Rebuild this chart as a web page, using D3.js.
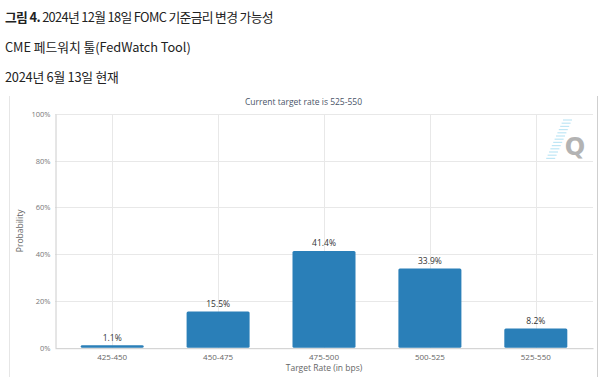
<!DOCTYPE html>
<html><head><meta charset="utf-8">
<script src="https://cdn.jsdelivr.net/npm/d3@7"></script>
<style>body{margin:0;background:#fff;} svg{display:block;}</style>
</head><body>
<script>
const categories = ["425-450","450-475","475-500","500-525","525-550"];
const probabilities = [1.1, 15.5, 41.4, 33.9, 8.2];
const yTicks = [0, 20, 40, 60, 80, 100];
const headerLines = ["2024년 12월 18일 FOMC 기준금리 변경 가능성","CME 페드워치 툴(FedWatch Tool)","2024년 6월 13일 현재"];
const chartTitle = "Current target rate is 525-550";
const xTitle = "Target Rate (in bps)";
const yTitle = "Probability";

(function () {
const W = 600, H = 380;
const svg = d3.select("body").append("svg").attr("width", W).attr("height", H);
const kfont = "'Noto Sans CJK KR','Noto Sans',sans-serif";
const cfont = "'Open Sans','DejaVu Sans',sans-serif";

// header
const h1 = svg.append("text").attr("x", 5).attr("y", 22).attr("font-family", kfont).attr("font-size", 12.8)
  .attr("letter-spacing", -0.65).attr("fill", "#222");
h1.append("tspan").attr("font-weight", "bold").text("그림 4. ");
h1.append("tspan").text(headerLines[0]);
svg.append("text").attr("x", 5).attr("y", 52).attr("font-family", kfont).attr("font-size", 12.8)
  .attr("letter-spacing", -0.05).attr("fill", "#222").text(headerLines[1]);
svg.append("text").attr("x", 5).attr("y", 82).attr("font-family", kfont).attr("font-size", 12.8)
  .attr("letter-spacing", -0.25).attr("fill", "#222").text(headerLines[2]);

// frame lines
svg.append("line").attr("x1", 9.5).attr("x2", 9.5).attr("y1", 96).attr("y2", 377).attr("stroke", "#e6e6e6");
svg.append("line").attr("x1", 597.5).attr("x2", 597.5).attr("y1", 96).attr("y2", 377).attr("stroke", "#cfcfcf");

const pl = 55, pr = 593, pt = 114, pb = 347.7;
const x = d3.scaleBand().domain(categories).range([pl, pr]).paddingInner(0).paddingOuter(0.04);
const y = d3.scaleLinear().domain([0, 100]).range([pb, pt]);

// horizontal grid
svg.append("g").selectAll("line").data(yTicks.slice(1)).join("line")
  .attr("x1", pl).attr("x2", pr)
  .attr("y1", d => Math.round(y(d)) + 0.5).attr("y2", d => Math.round(y(d)) + 0.5)
  .attr("stroke", "#e8e8e8");
// vertical grid at category centers
svg.append("g").selectAll("line").data(categories).join("line")
  .attr("x1", d => Math.round(x(d) + x.bandwidth() / 2) + 0.5)
  .attr("x2", d => Math.round(x(d) + x.bandwidth() / 2) + 0.5)
  .attr("y1", pt).attr("y2", pb)
  .attr("stroke", "#e8e8e8");

// y axis
const yAxis = svg.append("g").attr("transform", `translate(${pl + 0.5},0)`)
  .call(d3.axisLeft(y).tickValues(yTicks).tickFormat(d => d + "%").tickSize(0).tickPadding(5));
yAxis.select(".domain").attr("stroke", "#cccccc");
yAxis.selectAll("text").attr("font-family", cfont).attr("font-size", 7.5).attr("fill", "#777");

// bars
const barW = 63;
svg.append("g").selectAll("rect").data(categories).join("rect")
  .attr("x", (d) => x(d) + x.bandwidth() / 2 - barW / 2)
  .attr("width", barW)
  .attr("y", (d, i) => y(probabilities[i]))
  .attr("height", (d, i) => pb - y(probabilities[i]))
  .attr("rx", 1.5)
  .attr("fill", "#2a7fb8");

// x axis
const xAxis = svg.append("g").attr("transform", `translate(0,${pb + 0.5})`)
  .call(d3.axisBottom(x).tickSize(0).tickPadding(6).tickSizeOuter(0));
xAxis.select(".domain").attr("stroke", "#cccccc");
xAxis.selectAll("text").attr("font-family", cfont).attr("font-size", 8).attr("fill", "#666");

// value labels
svg.append("g").selectAll("text").data(categories).join("text")
  .attr("x", d => x(d) + x.bandwidth() / 2)
  .attr("y", (d, i) => y(probabilities[i]) - 4.5)
  .attr("text-anchor", "middle")
  .attr("font-family", cfont).attr("font-size", 8.5).attr("fill", "#333")
  .text((d, i) => probabilities[i].toFixed(1) + "%");

// titles
svg.append("text").attr("x", 303.5).attr("y", 105).attr("text-anchor", "middle")
  .attr("font-family", cfont).attr("font-size", 8.5).attr("fill", "#4a5568").text(chartTitle);
svg.append("text").attr("x", (pl + pr) / 2).attr("y", 371).attr("text-anchor", "middle")
  .attr("font-family", cfont).attr("font-size", 8.5).attr("fill", "#666").text(xTitle);
svg.append("text").attr("transform", `translate(23,${(pt + pb) / 2}) rotate(-90)`).attr("text-anchor", "middle")
  .attr("font-family", cfont).attr("font-size", 8.5).attr("fill", "#666").text(yTitle);

// Q logo
const logo = svg.append("g");
const streaks = [0, 1, 2, 3, 4, 5, 6, 7, 8, 9, 10, 11, 12];
logo.selectAll("line").data(streaks).join("line")
  .attr("x1", d => 570 - d * 1.4 - 7).attr("x2", d => 570 - d * 1.4 + 2)
  .attr("y1", d => 120 + d * 3.2).attr("y2", d => 120 + d * 3.2)
  .attr("stroke", "#bfe6f5").attr("stroke-width", 1.2);
logo.append("text").attr("x", 575).attr("y", 155).attr("text-anchor", "middle")
  .attr("font-family", "'DejaVu Sans',sans-serif").attr("font-weight", "bold").attr("font-size", 24)
  .attr("fill", "#b3b3b3").text("Q");
})();
</script>
</body></html>
